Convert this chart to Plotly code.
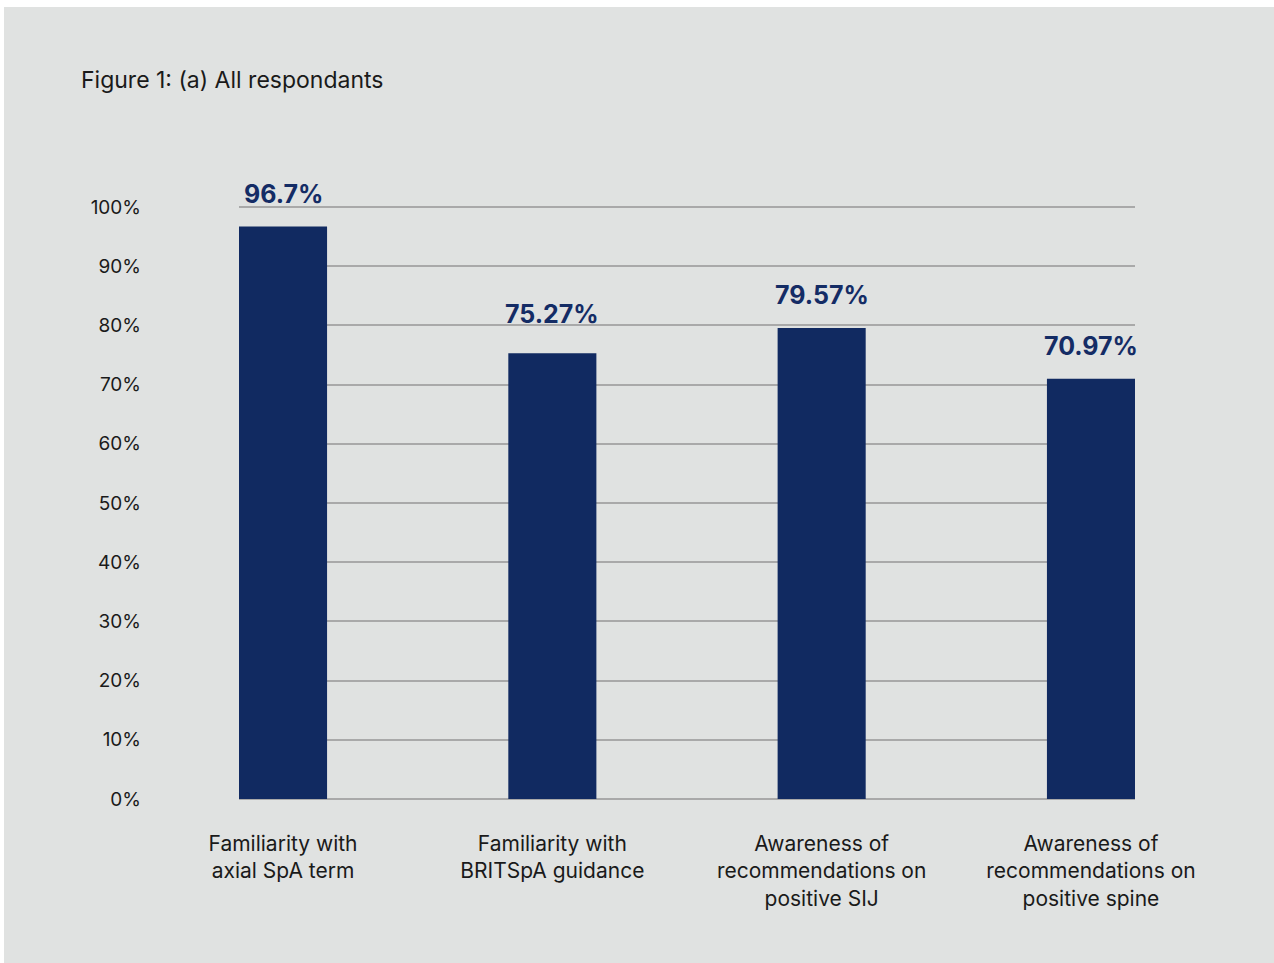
import plotly.graph_objects as go

categories = [
    "Familiarity with<br>axial SpA term",
    "Familiarity with<br>BRITSpA guidance",
    "Awareness of<br>recommendations on<br>positive SIJ",
    "Awareness of<br>recommendations on<br>positive spine",
]
values = [96.7, 75.27, 79.57, 70.97]
value_labels = ["96.7%", "75.27%", "79.57%", "70.97%"]
y_ticks = [0, 10, 20, 30, 40, 50, 60, 70, 80, 90, 100]
y_tick_labels = [f"{v}%" for v in y_ticks]

BG = "#e0e2e1"
BAR = "#112a61"
W, H = 1274, 963
L, R, T, B = 239, 139, 204, 164
FONT = "Inter, Noto Sans, sans-serif"
label_shift = {1: 22}  # label above 2nd bar sits a little higher to clear gridline

xs = list(range(len(categories)))
fig = go.Figure()
fig.add_trace(go.Bar(
    x=xs, y=values, width=0.327, marker=dict(color=BAR, line=dict(width=0)),
    hoverinfo="skip", cliponaxis=False,
))

for x, v, t in zip(xs, values, value_labels):
    fig.add_annotation(x=x, y=v, text=f"<b>{t}</b>", showarrow=False,
                       yanchor="bottom", yshift=label_shift.get(x, 16),
                       font=dict(family=FONT, size=25, color="#142c65"))

pw = W - L - R
ph = H - T - B
# white strips at top and left edges of page
fig.add_shape(type="rect", xref="paper", yref="paper",
              x0=(0 - L) / pw - 0.01, x1=(4 - L) / pw, y0=(B - H) / ph - 0.1, y1=(H - B) / ph + 0.1,
              fillcolor="white", line=dict(width=0), layer="below")
fig.add_shape(type="rect", xref="paper", yref="paper",
              x0=(0 - L) / pw - 0.01, x1=(W - L) / pw + 0.1, y0=(H - B - 7) / ph, y1=(H - B) / ph + 0.1,
              fillcolor="white", line=dict(width=0), layer="below")

fig.add_annotation(xref="paper", yref="paper", x=(79 - L) / pw, y=(H - B - 80) / ph,
                   xanchor="left", yanchor="middle", showarrow=False,
                   text="Figure 1: (a) All respondants",
                   font=dict(family=FONT, size=23, color="#1a1a1a"))

fig.update_layout(
    width=W, height=H,
    margin=dict(l=L, r=R, t=T, b=B, pad=0),
    paper_bgcolor=BG, plot_bgcolor=BG,
    showlegend=False,
    font=dict(family=FONT, color="#1a1a1a"),
    xaxis=dict(
        range=[-0.1635, 3.1635], tickmode="array", tickvals=xs, ticktext=categories,
        showgrid=False, zeroline=False, showline=False, ticks="",
        tickfont=dict(family=FONT, size=21, color="#1a1a1a"),
        ticklabelstandoff=30, fixedrange=True,
    ),
    yaxis=dict(
        range=[0, 100.5], tickmode="array", tickvals=y_ticks, ticktext=y_tick_labels,
        showgrid=True, gridcolor="#a9a9a9", gridwidth=1.5,
        zeroline=True, zerolinecolor="#a9a9a9", zerolinewidth=1.5,
        showline=False, ticks="",
        tickfont=dict(family=FONT, size=19, color="#1a1a1a"),
        ticklabelstandoff=97, fixedrange=True,
    ),
)

fig.write_html(
    "out.html",
    config={"displayModeBar": False},
    post_script="document.body.style.margin='0';document.body.style.overflow='hidden';",
)
